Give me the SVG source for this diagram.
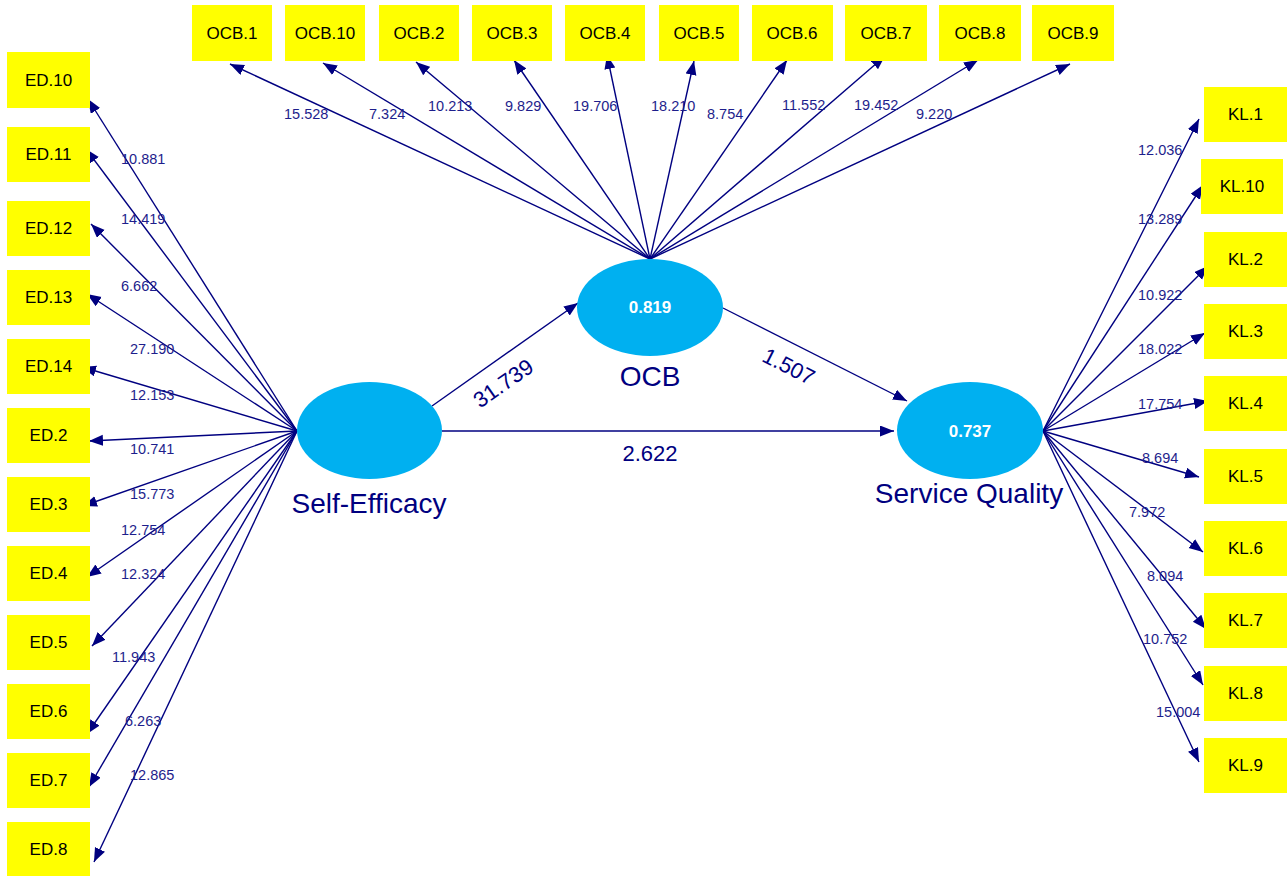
<svg xmlns="http://www.w3.org/2000/svg" width="1287" height="876" viewBox="0 0 1287 876">
  <style>
    .box { fill: #FFFF00; }
    .btxt { font-family: "Liberation Sans", Arial, sans-serif; font-size: 17px; fill: #000000; text-anchor: middle; }
    .lv { fill: #00B0F0; }
    .lvname { font-family: "Liberation Sans", Arial, sans-serif; font-size: 28px; fill: #000080; text-anchor: middle; }
    .r2 { font-family: "Liberation Sans", Arial, sans-serif; font-size: 17px; font-weight: bold; fill: #FFFFFF; text-anchor: middle; }
    .lnk { stroke: #000080; stroke-width: 1.4; fill: none; marker-end: url(#ah); }
    .ld { font-family: "Liberation Sans", Arial, sans-serif; font-size: 14.5px; fill: #1E1E8C; }
    .pc { font-family: "Liberation Sans", Arial, sans-serif; font-size: 22px; fill: #000080; text-anchor: middle; }
  </style>
  <defs>
    <marker id="ah" markerUnits="userSpaceOnUse" markerWidth="15" markerHeight="12" refX="14" refY="5.5" orient="auto">
      <path d="M0,0 L14,5.5 L0,11 Z" fill="#000080"/>
    </marker>
  </defs>

  <!-- connectors -->
  <g id="connectors">
    <!-- OCB indicators -->
    <line class="lnk" x1="650" y1="259" x2="230" y2="64"/>
    <line class="lnk" x1="650" y1="259" x2="323" y2="63"/>
    <line class="lnk" x1="650" y1="259" x2="416" y2="62"/>
    <line class="lnk" x1="650" y1="259" x2="514" y2="60"/>
    <line class="lnk" x1="650" y1="259" x2="607" y2="55"/>
    <line class="lnk" x1="650" y1="259" x2="694" y2="61"/>
    <line class="lnk" x1="650" y1="259" x2="787" y2="60"/>
    <line class="lnk" x1="650" y1="259" x2="885" y2="56"/>
    <line class="lnk" x1="650" y1="259" x2="978" y2="60"/>
    <line class="lnk" x1="650" y1="259" x2="1070" y2="64"/>
    <!-- Self-Efficacy indicators -->
    <line class="lnk" x1="297" y1="431" x2="88" y2="99"/>
    <line class="lnk" x1="297" y1="431" x2="86" y2="149"/>
    <line class="lnk" x1="297" y1="431" x2="91" y2="224"/>
    <line class="lnk" x1="297" y1="431" x2="87" y2="294"/>
    <line class="lnk" x1="297" y1="431" x2="82" y2="367"/>
    <line class="lnk" x1="297" y1="431" x2="89" y2="441"/>
    <line class="lnk" x1="297" y1="431" x2="83" y2="506"/>
    <line class="lnk" x1="297" y1="431" x2="87" y2="577"/>
    <line class="lnk" x1="297" y1="431" x2="92" y2="646"/>
    <line class="lnk" x1="297" y1="431" x2="87" y2="734"/>
    <line class="lnk" x1="297" y1="431" x2="89" y2="787"/>
    <line class="lnk" x1="297" y1="431" x2="94" y2="862"/>
    <!-- Service Quality indicators -->
    <line class="lnk" x1="1043" y1="431" x2="1199" y2="119"/>
    <line class="lnk" x1="1043" y1="431" x2="1203" y2="185"/>
    <line class="lnk" x1="1043" y1="431" x2="1208" y2="266"/>
    <line class="lnk" x1="1043" y1="431" x2="1205" y2="333"/>
    <line class="lnk" x1="1043" y1="431" x2="1208" y2="401"/>
    <line class="lnk" x1="1043" y1="431" x2="1199" y2="477"/>
    <line class="lnk" x1="1043" y1="431" x2="1203" y2="552"/>
    <line class="lnk" x1="1043" y1="431" x2="1206" y2="629"/>
    <line class="lnk" x1="1043" y1="431" x2="1203" y2="685"/>
    <line class="lnk" x1="1043" y1="431" x2="1199" y2="762"/>
    <!-- structural paths -->
    <line class="lnk" x1="432" y1="406" x2="578" y2="303"/>
    <line class="lnk" x1="442" y1="431" x2="894" y2="431"/>
    <line class="lnk" x1="723" y1="308" x2="907" y2="401"/>

    <!-- OCB loadings -->
    <text class="ld" x="284" y="119">15.528</text>
    <text class="ld" x="369" y="119">7.324</text>
    <text class="ld" x="428" y="111">10.213</text>
    <text class="ld" x="505" y="111">9.829</text>
    <text class="ld" x="573" y="111">19.706</text>
    <text class="ld" x="651" y="111">18.210</text>
    <text class="ld" x="707" y="119">8.754</text>
    <text class="ld" x="782" y="110">11.552</text>
    <text class="ld" x="854" y="110">19.452</text>
    <text class="ld" x="916" y="119">9.220</text>
    <!-- Self-Efficacy loadings -->
    <text class="ld" x="121" y="164">10.881</text>
    <text class="ld" x="121" y="224">14.419</text>
    <text class="ld" x="121" y="291">6.662</text>
    <text class="ld" x="130" y="354">27.190</text>
    <text class="ld" x="130" y="400">12.153</text>
    <text class="ld" x="130" y="454">10.741</text>
    <text class="ld" x="130" y="499">15.773</text>
    <text class="ld" x="121" y="535">12.754</text>
    <text class="ld" x="121" y="579">12.324</text>
    <text class="ld" x="112" y="662">11.943</text>
    <text class="ld" x="125" y="726">6.263</text>
    <text class="ld" x="130" y="780">12.865</text>
    <!-- Service Quality loadings -->
    <text class="ld" x="1138" y="155">12.036</text>
    <text class="ld" x="1138" y="224">13.289</text>
    <text class="ld" x="1138" y="300">10.922</text>
    <text class="ld" x="1138" y="354">18.022</text>
    <text class="ld" x="1138" y="409">17.754</text>
    <text class="ld" x="1142" y="463">8.694</text>
    <text class="ld" x="1129" y="517">7.972</text>
    <text class="ld" x="1147" y="581">8.094</text>
    <text class="ld" x="1143" y="644">10.752</text>
    <text class="ld" x="1156" y="717">15.004</text>
    <!-- path coefficients -->
    <text class="pc" transform="translate(503,383) rotate(-35)" y="8">31.739</text>
    <text class="pc" x="650" y="461">2.622</text>
    <text class="pc" transform="translate(789,366) rotate(27)" y="8">1.507</text>
  </g>

  <!-- latent variables -->
  <g id="self-efficacy">
    <ellipse class="lv" cx="369.5" cy="430.5" rx="72.5" ry="48.5"/>
    <text class="lvname" x="369" y="513">Self-Efficacy</text>
  </g>
  <g id="ocb">
    <ellipse class="lv" cx="650" cy="307.5" rx="73" ry="48.5"/>
    <text class="r2" x="650" y="313">0.819</text>
    <text class="lvname" x="650" y="386">OCB</text>
  </g>
  <g id="service-quality">
    <ellipse class="lv" cx="970" cy="430.5" rx="73" ry="48.5"/>
    <text class="r2" x="970" y="437">0.737</text>
    <text class="lvname" x="969" y="503">Service Quality</text>
  </g>

  <!-- OCB indicator boxes -->
  <g id="ocb-1"><rect class="box" x="192" y="5" width="80" height="56"/><text class="btxt" x="232" y="39">OCB.1</text></g>
  <g id="ocb-10"><rect class="box" x="285" y="5" width="80" height="56"/><text class="btxt" x="325" y="39">OCB.10</text></g>
  <g id="ocb-2"><rect class="box" x="379" y="5" width="80" height="56"/><text class="btxt" x="419" y="39">OCB.2</text></g>
  <g id="ocb-3"><rect class="box" x="472" y="5" width="80" height="56"/><text class="btxt" x="512" y="39">OCB.3</text></g>
  <g id="ocb-4"><rect class="box" x="565" y="5" width="80" height="56"/><text class="btxt" x="605" y="39">OCB.4</text></g>
  <g id="ocb-5"><rect class="box" x="659" y="5" width="80" height="56"/><text class="btxt" x="699" y="39">OCB.5</text></g>
  <g id="ocb-6"><rect class="box" x="752" y="5" width="81" height="56"/><text class="btxt" x="792" y="39">OCB.6</text></g>
  <g id="ocb-7"><rect class="box" x="845" y="5" width="82" height="56"/><text class="btxt" x="886" y="39">OCB.7</text></g>
  <g id="ocb-8"><rect class="box" x="939" y="5" width="82" height="56"/><text class="btxt" x="980" y="39">OCB.8</text></g>
  <g id="ocb-9"><rect class="box" x="1032" y="5" width="82" height="56"/><text class="btxt" x="1073" y="39">OCB.9</text></g>

  <!-- Self-Efficacy indicator boxes -->
  <g id="ed-10"><rect class="box" x="7" y="52" width="83" height="56"/><text class="btxt" x="48.5" y="86">ED.10</text></g>
  <g id="ed-11"><rect class="box" x="7" y="127" width="83" height="55"/><text class="btxt" x="48.5" y="160">ED.11</text></g>
  <g id="ed-12"><rect class="box" x="7" y="201" width="83" height="55"/><text class="btxt" x="48.5" y="234">ED.12</text></g>
  <g id="ed-13"><rect class="box" x="7" y="270" width="83" height="55"/><text class="btxt" x="48.5" y="303">ED.13</text></g>
  <g id="ed-14"><rect class="box" x="7" y="339" width="83" height="55"/><text class="btxt" x="48.5" y="372">ED.14</text></g>
  <g id="ed-2"><rect class="box" x="7" y="408" width="83" height="55"/><text class="btxt" x="48.5" y="441">ED.2</text></g>
  <g id="ed-3"><rect class="box" x="7" y="477" width="83" height="55"/><text class="btxt" x="48.5" y="510">ED.3</text></g>
  <g id="ed-4"><rect class="box" x="7" y="546" width="83" height="55"/><text class="btxt" x="48.5" y="579">ED.4</text></g>
  <g id="ed-5"><rect class="box" x="7" y="615" width="83" height="55"/><text class="btxt" x="48.5" y="648">ED.5</text></g>
  <g id="ed-6"><rect class="box" x="7" y="684" width="83" height="55"/><text class="btxt" x="48.5" y="717">ED.6</text></g>
  <g id="ed-7"><rect class="box" x="7" y="753" width="83" height="55"/><text class="btxt" x="48.5" y="786">ED.7</text></g>
  <g id="ed-8"><rect class="box" x="7" y="822" width="83" height="55"/><text class="btxt" x="48.5" y="855">ED.8</text></g>

  <!-- Service Quality indicator boxes -->
  <g id="kl-1"><rect class="box" x="1204" y="87" width="83" height="55"/><text class="btxt" x="1245.5" y="120">KL.1</text></g>
  <g id="kl-10"><rect class="box" x="1201" y="159" width="82" height="55"/><text class="btxt" x="1242" y="192">KL.10</text></g>
  <g id="kl-2"><rect class="box" x="1204" y="232" width="83" height="55"/><text class="btxt" x="1245.5" y="265">KL.2</text></g>
  <g id="kl-3"><rect class="box" x="1204" y="304" width="83" height="55"/><text class="btxt" x="1245.5" y="337">KL.3</text></g>
  <g id="kl-4"><rect class="box" x="1204" y="376" width="83" height="55"/><text class="btxt" x="1245.5" y="409">KL.4</text></g>
  <g id="kl-5"><rect class="box" x="1204" y="449" width="83" height="55"/><text class="btxt" x="1245.5" y="482">KL.5</text></g>
  <g id="kl-6"><rect class="box" x="1204" y="521" width="83" height="55"/><text class="btxt" x="1245.5" y="554">KL.6</text></g>
  <g id="kl-7"><rect class="box" x="1204" y="593" width="83" height="55"/><text class="btxt" x="1245.5" y="626">KL.7</text></g>
  <g id="kl-8"><rect class="box" x="1204" y="666" width="83" height="55"/><text class="btxt" x="1245.5" y="699">KL.8</text></g>
  <g id="kl-9"><rect class="box" x="1204" y="738" width="83" height="55"/><text class="btxt" x="1245.5" y="771">KL.9</text></g>
</svg>
